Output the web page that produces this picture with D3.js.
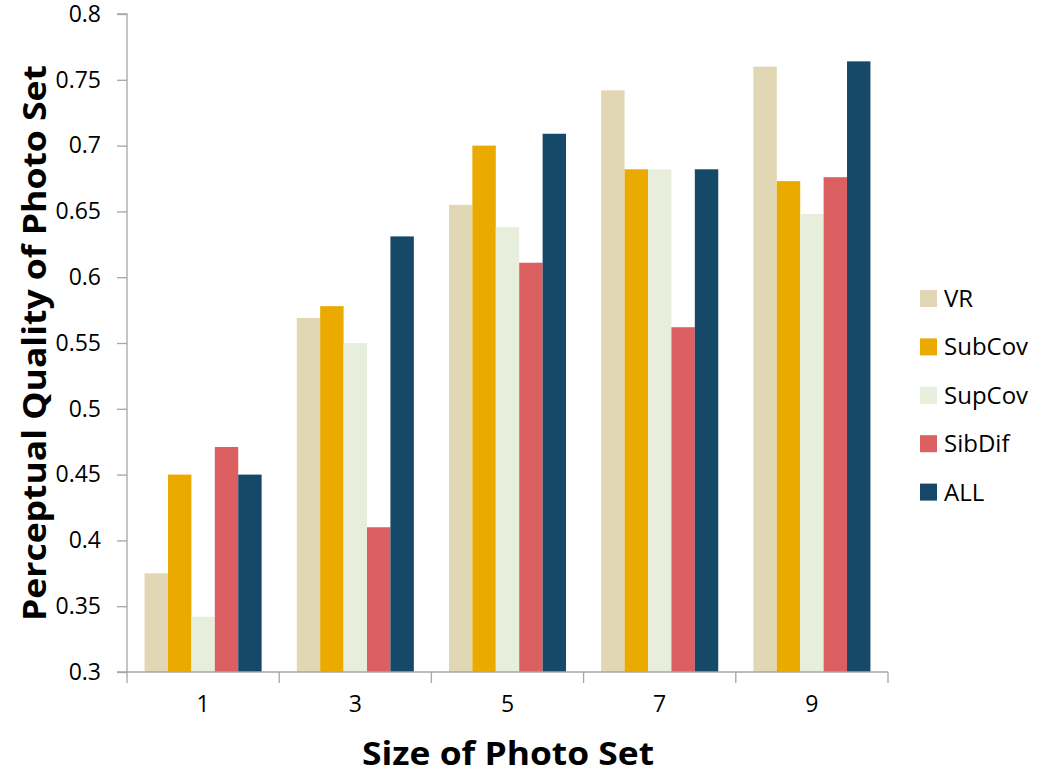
<!DOCTYPE html>
<html><head><meta charset="utf-8">
<script src="https://cdn.jsdelivr.net/npm/d3@7"></script>
<style>body{margin:0;background:#fff}svg{display:block}</style>
</head><body><svg id="c" width="1037" height="776"></svg>
<script>
const categories = ["1","3","5","7","9"];
const seriesNames = ["VR","SubCov","SupCov","SibDif","ALL"];
const colors = ["#E1D7B4","#EBAA00","#E7EFDC","#DC6062","#164868"];
const VR     = [0.375,0.569,0.655,0.742,0.760];
const SubCov = [0.450,0.578,0.700,0.682,0.673];
const SupCov = [0.342,0.550,0.638,0.682,0.648];
const SibDif = [0.471,0.410,0.611,0.562,0.676];
const ALL    = [0.450,0.631,0.709,0.682,0.764];
const yTicks = [0.3,0.35,0.4,0.45,0.5,0.55,0.6,0.65,0.7,0.75,0.8];
const seriesValues = [VR,SubCov,SupCov,SibDif,ALL];

const svg = d3.select("#c");
const font = "'Open Sans','Noto Sans',sans-serif";
const L=127, R=888, T=14, B=672;
const x = d3.scaleBand().domain(categories).range([L,R]).padding(0);
const y = d3.scaleLinear().domain([0.3,0.8]).range([B,T]);
const bw = x.bandwidth()/(seriesNames.length+1.5);
const off = 0.75*bw;

// bars
seriesNames.forEach((s,si)=>{
  svg.append("g").selectAll("rect").data(categories).join("rect")
    .attr("x",(c)=>x(c)+off+si*bw)
    .attr("width",bw)
    .attr("y",(c,i)=>y(seriesValues[si][i]))
    .attr("height",(c,i)=>B-y(seriesValues[si][i]))
    .attr("fill",colors[si]);
});

// y axis
const yAx = svg.append("g").attr("transform",`translate(${L},0)`)
  .call(d3.axisLeft(y).tickValues(yTicks).tickSize(10).tickPadding(16)
    .tickFormat(d=>String(+d.toFixed(2))));
yAx.selectAll("path,line").attr("stroke","#A6A6A6").attr("stroke-width",1.3);
yAx.select(".domain").attr("d",`M-10,${T}H0V${B}H-10`);
yAx.selectAll("text").attr("font-family",font).attr("font-size",23).attr("fill","#000");

// x axis
const xAx = svg.append("g").attr("transform",`translate(0,${B})`)
  .call(d3.axisBottom(x).tickSize(0).tickPadding(24));
xAx.selectAll("path").attr("stroke","#A6A6A6").attr("stroke-width",1.3)
  .attr("d",`M${L},0H${R}`);
xAx.selectAll("text").attr("font-family",font).attr("font-size",23).attr("fill","#000");
const bounds = categories.map(c=>x(c)).concat([R]);
xAx.selectAll(".bt").data(bounds).join("line").attr("class","bt")
  .attr("x1",d=>d).attr("x2",d=>d).attr("y1",0).attr("y2",11)
  .attr("stroke","#A6A6A6").attr("stroke-width",1.3);

// titles
svg.append("text").attr("x",508).attr("y",765).attr("text-anchor","middle")
  .attr("font-family",font).attr("font-weight","bold").attr("font-size",32)
  .attr("textLength",292).attr("lengthAdjust","spacingAndGlyphs")
  .text("Size of Photo Set");
svg.append("text").attr("transform","translate(46,343) rotate(-90)")
  .attr("text-anchor","middle")
  .attr("font-family",font).attr("font-weight","bold").attr("font-size",33)
  .attr("textLength",556).attr("lengthAdjust","spacingAndGlyphs")
  .text("Perceptual Quality of Photo Set");

// legend
const lg = svg.append("g");
seriesNames.forEach((s,i)=>{
  const yy = 290 + i*48.4;
  lg.append("rect").attr("x",920).attr("y",yy).attr("width",17).attr("height",17).attr("fill",colors[i]);
  lg.append("text").attr("x",944).attr("y",yy+17).attr("font-family",font)
    .attr("font-size",24).attr("fill","#000").text(s);
});
</script></body></html>
